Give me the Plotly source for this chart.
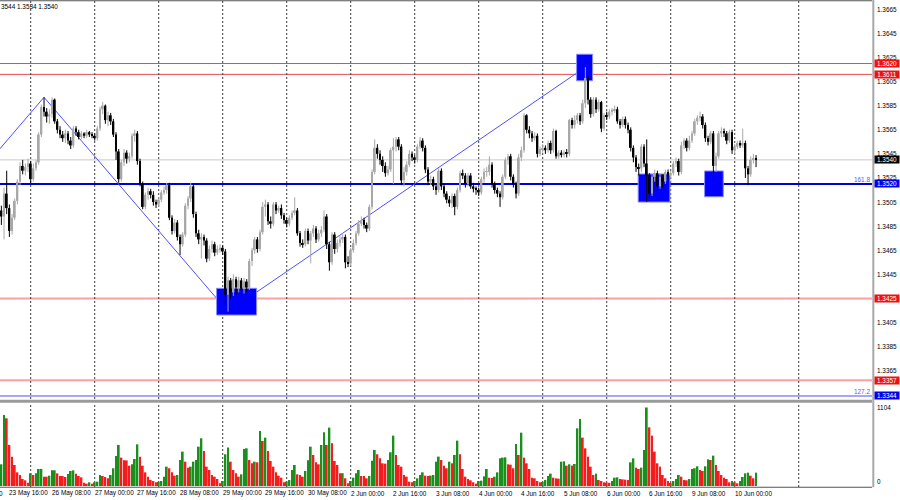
import plotly.graph_objects as go

# ---------------- data (hourly bars, index 0 = 23 May 13:00) ----------------
tick_bars = [3, 19, 35, 51, 67, 83, 99, 115, 131, 147, 163, 179, 195, 211, 227, 243, 259, 275]
tick_labels = ["23 May 16:00", "26 May 08:00", "27 May 00:00", "27 May 16:00", "28 May 08:00",
               "29 May 00:00", "29 May 16:00", "30 May 08:00", "2 Jun 00:00", "2 Jun 16:00",
               "3 Jun 08:00", "4 Jun 00:00", "4 Jun 16:00", "5 Jun 08:00", "6 Jun 00:00",
               "6 Jun 16:00", "9 Jun 08:00", "10 Jun 00:00"]
day_start_bars = [11, 35, 59, 83, 107, 131, 155, 179, 203, 227, 251, 275, 299]

first_open = 1.3498
close = [
    1.3493, 1.3512, 1.3500, 1.3481, 1.3492, 1.3506, 1.3522, 1.3535, 1.3531, 1.3534, 1.3537,
    1.3524, 1.3533, 1.3538, 1.3561, 1.3584, 1.3580, 1.3576, 1.3578, 1.3590, 1.3572,
    1.3565, 1.3561, 1.3558, 1.3562, 1.3556, 1.3552, 1.3566, 1.3563, 1.3559, 1.3562,
    1.3560, 1.3563, 1.3561, 1.3560, 1.3558, 1.3566, 1.3582, 1.3585, 1.3573, 1.3577,
    1.3572, 1.3561, 1.3547, 1.3524, 1.3538, 1.3546, 1.3541, 1.3543, 1.3560, 1.3562,
    1.3539, 1.3520, 1.3501, 1.3511, 1.3514, 1.3511, 1.3505, 1.3503, 1.3507, 1.3513,
    1.3515, 1.3519, 1.3492, 1.3481, 1.3488, 1.3476, 1.3470, 1.3478, 1.3502, 1.3508,
    1.3518, 1.3495, 1.3479, 1.3474, 1.3476, 1.3473, 1.3458, 1.3466, 1.3470, 1.3463,
    1.3466, 1.3467, 1.3464, 1.3428, 1.3440, 1.3430, 1.3441, 1.3434, 1.3440, 1.3433,
    1.3439, 1.3434, 1.3456, 1.3465, 1.3474, 1.3466, 1.3480, 1.3501, 1.3503, 1.3489,
    1.3487, 1.3503, 1.3498, 1.3500, 1.3494, 1.3490, 1.3487, 1.3492, 1.3496, 1.3498,
    1.3479, 1.3471, 1.3470, 1.3481, 1.3473, 1.3479, 1.3483, 1.3474, 1.3479, 1.3482,
    1.3493, 1.3470, 1.3455, 1.3478, 1.3466, 1.3471, 1.3474, 1.3476, 1.3455, 1.3454,
    1.3465, 1.3471, 1.3479, 1.3487, 1.3490, 1.3486, 1.3483, 1.3501, 1.3530, 1.3550,
    1.3545, 1.3540, 1.3535, 1.3529, 1.3532, 1.3548, 1.3551, 1.3557, 1.3551, 1.3523,
    1.3530, 1.3536, 1.3545, 1.3542, 1.3540, 1.3551, 1.3556, 1.3550, 1.3532, 1.3522,
    1.3524, 1.3518, 1.3515, 1.3531, 1.3518, 1.3512, 1.3507, 1.3504, 1.3510, 1.3501,
    1.3515, 1.3529, 1.3527, 1.3520, 1.3527, 1.3518, 1.3516, 1.3515, 1.3513, 1.3524,
    1.3530, 1.3530, 1.3536, 1.3520, 1.3515, 1.3512, 1.3509, 1.3526, 1.3540, 1.3543,
    1.3526, 1.3520, 1.3512, 1.3542, 1.3548, 1.3577, 1.3565, 1.3562, 1.3558, 1.3560,
    1.3545, 1.3549, 1.3550, 1.3548, 1.3554, 1.3548, 1.3564, 1.3543, 1.3546, 1.3544,
    1.3546, 1.3545, 1.3573, 1.3569, 1.3573, 1.3577, 1.3572, 1.3587, 1.3608, 1.3590,
    1.3578, 1.3590, 1.3582, 1.3588, 1.3566, 1.3577, 1.3576, 1.3580, 1.3581, 1.3582,
    1.3572, 1.3569, 1.3574, 1.3569, 1.3565, 1.3550, 1.3542, 1.3534, 1.3533, 1.3551,
    1.3537, 1.3527, 1.3512, 1.3526, 1.3529, 1.3518, 1.3526, 1.3522, 1.3530, 1.3527,
    1.3529, 1.3537, 1.3539, 1.3530, 1.3552, 1.3556, 1.3550, 1.3556, 1.3562, 1.3572,
    1.3575, 1.3576, 1.3569, 1.3558, 1.3555, 1.3562, 1.3535, 1.3543, 1.3562, 1.3564,
    1.3562, 1.3556, 1.3563, 1.3548, 1.3551, 1.3554, 1.3552, 1.3554, 1.3533, 1.3528,
    1.3540, 1.3541, 1.3540,
]
high = [
    1.3502, 1.3517, 1.3531, 1.3503, 1.3495, 1.3508, 1.3524, 1.3538, 1.3540, 1.3537, 1.3541,
    1.3539, 1.3537, 1.3540, 1.3563, 1.3586, 1.3592, 1.3583, 1.3582, 1.3592, 1.3591,
    1.3574, 1.3568, 1.3564, 1.3565, 1.3564, 1.3559, 1.3568, 1.3568, 1.3565, 1.3564,
    1.3563, 1.3565, 1.3564, 1.3563, 1.3562, 1.3568, 1.3584, 1.3588, 1.3586, 1.3580,
    1.3579, 1.3574, 1.3563, 1.3549, 1.3540, 1.3549, 1.3548, 1.3546, 1.3562, 1.3565,
    1.3564, 1.3541, 1.3522, 1.3513, 1.3517, 1.3516, 1.3514, 1.3507, 1.3509, 1.3515,
    1.3518, 1.3521, 1.3521, 1.3494, 1.3491, 1.3490, 1.3478, 1.3480, 1.3504, 1.3510,
    1.3521, 1.3520, 1.3497, 1.3482, 1.3479, 1.3478, 1.3475, 1.3469, 1.3473, 1.3472,
    1.3469, 1.3470, 1.3469, 1.3466, 1.3443, 1.3442, 1.3445, 1.3443, 1.3443, 1.3442,
    1.3442, 1.3441, 1.3458, 1.3467, 1.3476, 1.3476, 1.3482, 1.3505, 1.3507, 1.3505,
    1.3493, 1.3505, 1.3505, 1.3502, 1.3503, 1.3496, 1.3492, 1.3494, 1.3498, 1.3509,
    1.3500, 1.3481, 1.3474, 1.3483, 1.3483, 1.3481, 1.3486, 1.3485, 1.3482, 1.3485,
    1.3498, 1.3495, 1.3472, 1.3480, 1.3480, 1.3474, 1.3477, 1.3479, 1.3478, 1.3460,
    1.3467, 1.3474, 1.3481, 1.3490, 1.3493, 1.3492, 1.3488, 1.3503, 1.3532, 1.3557,
    1.3553, 1.3548, 1.3543, 1.3538, 1.3535, 1.3550, 1.3558, 1.3559, 1.3559, 1.3553,
    1.3534, 1.3539, 1.3548, 1.3547, 1.3544, 1.3553, 1.3559, 1.3558, 1.3552, 1.3534,
    1.3527, 1.3526, 1.3520, 1.3533, 1.3533, 1.3520, 1.3514, 1.3510, 1.3512, 1.3512,
    1.3517, 1.3531, 1.3532, 1.3529, 1.3529, 1.3529, 1.3521, 1.3518, 1.3517, 1.3526,
    1.3533, 1.3534, 1.3543, 1.3538, 1.3522, 1.3517, 1.3514, 1.3528, 1.3542, 1.3545,
    1.3545, 1.3528, 1.3522, 1.3545, 1.3551, 1.3579, 1.3578, 1.3568, 1.3564, 1.3563,
    1.3562, 1.3551, 1.3553, 1.3552, 1.3556, 1.3556, 1.3566, 1.3565, 1.3548, 1.3548,
    1.3548, 1.3549, 1.3574, 1.3575, 1.3577, 1.3579, 1.3579, 1.3590, 1.3617, 1.3610,
    1.3592, 1.3592, 1.3592, 1.3590, 1.3589, 1.3579, 1.3580, 1.3582, 1.3583, 1.3585,
    1.3584, 1.3574, 1.3576, 1.3576, 1.3571, 1.3567, 1.3552, 1.3544, 1.3537, 1.3553,
    1.3553, 1.3557, 1.3529, 1.3528, 1.3532, 1.3531, 1.3529, 1.3528, 1.3532, 1.3532,
    1.3531, 1.3539, 1.3542, 1.3541, 1.3555, 1.3558, 1.3558, 1.3560, 1.3564, 1.3574,
    1.3577, 1.3580, 1.3578, 1.3571, 1.3560, 1.3564, 1.3564, 1.3546, 1.3564, 1.3567,
    1.3566, 1.3564, 1.3565, 1.3565, 1.3553, 1.3556, 1.3556, 1.3566, 1.3556, 1.3535,
    1.3543, 1.3545, 1.3544,
]
low = [
    1.3486, 1.3474, 1.3495, 1.3476, 1.3478, 1.3490, 1.3503, 1.3519, 1.3528, 1.3527, 1.3530,
    1.3521, 1.3522, 1.3531, 1.3536, 1.3559, 1.3576, 1.3571, 1.3570, 1.3575, 1.3570,
    1.3562, 1.3558, 1.3555, 1.3554, 1.3553, 1.3549, 1.3550, 1.3560, 1.3557, 1.3557,
    1.3558, 1.3558, 1.3559, 1.3558, 1.3556, 1.3556, 1.3564, 1.3578, 1.3570, 1.3568,
    1.3569, 1.3559, 1.3540, 1.3521, 1.3522, 1.3535, 1.3537, 1.3538, 1.3541, 1.3555,
    1.3536, 1.3518, 1.3499, 1.3499, 1.3507, 1.3508, 1.3502, 1.3500, 1.3501, 1.3505,
    1.3511, 1.3512, 1.3490, 1.3478, 1.3479, 1.3473, 1.3461, 1.3468, 1.3476, 1.3499,
    1.3505, 1.3492, 1.3476, 1.3470, 1.3458, 1.3469, 1.3455, 1.3456, 1.3463, 1.3460,
    1.3461, 1.3463, 1.3461, 1.3420, 1.3414, 1.3425, 1.3427, 1.3428, 1.3430, 1.3427,
    1.3429, 1.3430, 1.3432, 1.3452, 1.3462, 1.3463, 1.3464, 1.3478, 1.3493, 1.3486,
    1.3483, 1.3485, 1.3495, 1.3496, 1.3491, 1.3487, 1.3484, 1.3485, 1.3490, 1.3494,
    1.3477, 1.3468, 1.3467, 1.3468, 1.3470, 1.3454, 1.3476, 1.3471, 1.3472, 1.3476,
    1.3480, 1.3466, 1.3448, 1.3453, 1.3462, 1.3463, 1.3468, 1.3471, 1.3450, 1.3451,
    1.3452, 1.3463, 1.3469, 1.3477, 1.3485, 1.3483, 1.3480, 1.3481, 1.3499, 1.3528,
    1.3541, 1.3536, 1.3530, 1.3526, 1.3527, 1.3530, 1.3520, 1.3547, 1.3548, 1.3519,
    1.3518, 1.3527, 1.3534, 1.3539, 1.3537, 1.3538, 1.3549, 1.3547, 1.3529, 1.3519,
    1.3519, 1.3515, 1.3511, 1.3513, 1.3515, 1.3509, 1.3504, 1.3501, 1.3500, 1.3494,
    1.3499, 1.3513, 1.3524, 1.3517, 1.3518, 1.3516, 1.3513, 1.3511, 1.3510, 1.3511,
    1.3521, 1.3526, 1.3527, 1.3517, 1.3512, 1.3509, 1.3501, 1.3507, 1.3524, 1.3536,
    1.3523, 1.3517, 1.3508, 1.3510, 1.3539, 1.3546, 1.3562, 1.3558, 1.3555, 1.3556,
    1.3542, 1.3543, 1.3546, 1.3545, 1.3546, 1.3545, 1.3546, 1.3541, 1.3541, 1.3542,
    1.3542, 1.3542, 1.3543, 1.3566, 1.3566, 1.3570, 1.3569, 1.3570, 1.3583, 1.3586,
    1.3575, 1.3576, 1.3579, 1.3580, 1.3563, 1.3564, 1.3573, 1.3574, 1.3577, 1.3579,
    1.3570, 1.3566, 1.3567, 1.3566, 1.3562, 1.3547, 1.3538, 1.3530, 1.3527, 1.3530,
    1.3534, 1.3505, 1.3508, 1.3510, 1.3522, 1.3514, 1.3516, 1.3517, 1.3520, 1.3524,
    1.3525, 1.3527, 1.3534, 1.3527, 1.3528, 1.3549, 1.3547, 1.3548, 1.3554, 1.3560,
    1.3569, 1.3572, 1.3566, 1.3555, 1.3552, 1.3553, 1.3523, 1.3530, 1.3541, 1.3559,
    1.3559, 1.3553, 1.3554, 1.3545, 1.3545, 1.3549, 1.3550, 1.3550, 1.3525, 1.3519,
    1.3526, 1.3537, 1.3534,
]
volume = [
    305, 999, 952, 577, 413, 295, 192, 155, 98, 80, 47,
    178, 155, 178, 239, 240, 131, 131, 145, 220, 221, 178, 141, 140, 127, 169, 211, 220, 174, 141, 122, 47, 33, 52, 33,
    52, 61, 155, 141, 127, 108, 155, 249, 422, 577, 399, 361, 360, 286, 305, 380, 586, 413, 286, 192, 131, 84, 70, 52,
    58, 70, 131, 272, 249, 192, 145, 155, 366, 483, 342, 258, 272, 342, 366, 553, 671, 492, 272, 225, 155, 131, 98, 38,
    70, 446, 540, 342, 225, 178, 131, 164, 521, 530, 366, 319, 342, 333, 774, 633, 680, 492, 352, 272, 192, 145, 117, 52,
    61, 84, 225, 295, 164, 155, 131, 211, 361, 553, 436, 333, 305, 577, 755, 577, 821, 600, 352, 295, 178, 180, 108, 38,
    70, 117, 178, 225, 141, 140, 108, 141, 356, 507, 446, 389, 319, 314, 366, 474, 708, 436, 295, 272, 155, 131, 61, 52,
    70, 108, 155, 192, 145, 141, 146, 155, 342, 413, 366, 286, 249, 342, 319, 436, 638, 446, 239, 131, 98, 80, 52, 33,
    70, 75, 136, 239, 117, 113, 131, 192, 389, 399, 403, 305, 300, 249, 591, 436, 750, 399, 319, 239, 117, 108, 70, 52,
    56, 84, 141, 174, 117, 108, 103, 342, 347, 286, 305, 286, 310, 811, 943, 680, 530, 413, 272, 155, 174, 84, 70, 52,
    47, 45, 70, 117, 122, 98, 94, 89, 84, 333, 389, 258, 239, 258, 507, 1104, 825, 708, 483, 319, 272, 155, 108, 70,
    42, 70, 98, 155, 131, 84, 80, 98, 239, 249, 277, 225, 211, 277, 375, 366, 427, 295, 211, 155, 117, 98, 52, 70,
    52, 38, 70, 127, 178, 188, 145, 108, 188,
]

price_ticks = [1.3665, 1.3645, 1.3625, 1.3605, 1.3585, 1.3565, 1.3545, 1.3525, 1.3505,
               1.3485, 1.3465, 1.3445, 1.3425, 1.3405, 1.3385, 1.3365]
level_prices = [1.3620, 1.3611, 1.3540, 1.3520, 1.3425, 1.3357, 1.3344]
fibo_labels = [("161.8", 1.3520), ("127.2", 1.3344)]
zigzag_x = [-8, 16, 85, 219]
zigzag_y = [1.3530, 1.3592, 1.3414, 1.3617]
box_x0 = [215.7, 80.7, 238.8, 263.7]
box_x1 = [221.7, 95.7, 250.7, 270.7]
box_y0 = [1.36057, 1.34112, 1.35050, 1.35094]
box_y1 = [1.36277, 1.34334, 1.35283, 1.35308]
vol_max_label = 1104
header_text = "3544 1.3534 1.3540"

n = len(close)
assert len(high) == n and len(low) == n and len(volume) == n, (len(close), len(high), len(low), len(volume))

# ---------------- styles ----------------
FONT = "Liberation Sans"
FS = 6.4
BULL = "#a8a8a8"
BEAR = "#000000"
VOL_UP = "#1b8f1b"
VOL_DN = "#f41c1c"

opens = [first_open] + close[:-1]
xs = list(range(n))

fig = go.Figure()

# candle wicks
for bull in (True, False):
    wx, wy = [], []
    for i in xs:
        if (close[i] >= opens[i]) == bull:
            wx += [i, i, None]
            wy += [min(low[i], opens[i], close[i]), max(high[i], opens[i], close[i]), None]
    fig.add_trace(go.Scatter(x=wx, y=wy, mode="lines", line=dict(color=BULL if bull else BEAR, width=1),
                             hoverinfo="skip", xaxis="x", yaxis="y"))

# candle bodies
for bull in (True, False):
    bx, bb, bh = [], [], []
    for i in xs:
        if (close[i] >= opens[i]) == bull:
            bx.append(i)
            bb.append(min(opens[i], close[i]))
            bh.append(max(abs(close[i] - opens[i]), 0.00005))
    fig.add_trace(go.Bar(x=bx, y=bh, base=bb, width=0.72, marker=dict(color=BULL if bull else BEAR, line=dict(width=0)),
                         hoverinfo="skip", xaxis="x", yaxis="y"))

# volumes
vcol = [VOL_UP if (i == 0 or volume[i] > volume[i - 1]) else VOL_DN for i in xs]
fig.add_trace(go.Bar(x=xs, y=volume, width=0.72, marker=dict(color=vcol, line=dict(width=0)),
                     hoverinfo="skip", xaxis="x", yaxis="y2"))

# ---------------- geometry ----------------
Y_MAIN = [0.202, 0.998]
Y_VOL = [0.026, 0.194]
shapes = []
# horizontal levels
level_style = {
    1.3620: ("#e84c4c", 1), 1.3611: ("#e84c4c", 1), 1.3540: ("#c8c8c8", 1), 1.3520: ("#0000d0", 2),
    1.3425: ("#ffa0a0", 2), 1.3357: ("#ffa0a0", 2), 1.3344: ("#4a4aff", 1),
}
for p in level_prices:
    c, w = level_style[p]
    shapes.append(dict(type="line", xref="paper", yref="y", x0=0, x1=1, y0=p, y1=p, layer="below",
                       line=dict(color=c, width=w)))
# zigzag (drawn under the rectangles, as in the terminal)
zz_path = "M " + " L ".join(f"{x},{y}" for x, y in zip(zigzag_x, zigzag_y))
shapes.append(dict(type="path", xref="x", yref="y", path=zz_path, layer="below",
                   line=dict(color="#4f4fff", width=1)))
# blue rectangles
for x0, x1, y0, y1 in zip(box_x0, box_x1, box_y0, box_y1):
    shapes.append(dict(type="rect", xref="x", yref="y", x0=x0, x1=x1, y0=y0, y1=y1, layer="below",
                       fillcolor="#0000ff", line=dict(color="#8a8aff", width=1)))
# vertical dotted day grid in both panels
for b in day_start_bars:
    for d in (Y_MAIN, Y_VOL):
        shapes.append(dict(type="line", xref="x", yref="paper", x0=b, x1=b, y0=d[0], y1=d[1], layer="below",
                           line=dict(color="#3c3c3c", width=1, dash="2px,2px")))
# panel frame
shapes += [
    dict(type="rect", xref="paper", yref="paper", x0=0, x1=1, y0=0.1945, y1=0.2005, layer="above",
         fillcolor="#9a9a9a", line=dict(width=0)),
    dict(type="line", xref="paper", yref="paper", x0=0, x1=1.0, y0=0.9985, y1=0.9985, line=dict(color="#555555", width=1)),
    dict(type="line", xref="paper", yref="paper", x0=0, x1=1.0, y0=0.0255, y1=0.0255, line=dict(color="#555555", width=1)),
    dict(type="line", xref="paper", yref="paper", x0=1.0015, x1=1.0015, y0=0.0255, y1=1.0, line=dict(color="#a8a8a8", width=2)),
]

ann = []
for p in price_ticks:
    ann.append(dict(xref="paper", yref="y", x=876 / 872, y=p, xanchor="left", yanchor="middle", showarrow=False,
                    text=f"{p:.4f}", font=dict(family=FONT, size=FS, color="#000000"), borderpad=0))
label_bg = {1.3620: "#ee1111", 1.3611: "#ee1111", 1.3540: "#000000", 1.3520: "#0000ee",
            1.3425: "#ee1111", 1.3357: "#ee1111", 1.3344: "#0000ee"}
for p in level_prices:
    ann.append(dict(xref="paper", yref="y", x=874 / 872, y=p, xanchor="left", yanchor="middle", showarrow=False,
                    text=f"{p:.4f}", font=dict(family=FONT, size=FS, color="#ffffff"), bgcolor=label_bg[p],
                    width=24, height=7, borderpad=0, align="center"))
for t, p in fibo_labels:
    ann.append(dict(xref="paper", yref="y", x=871 / 872, y=p, xanchor="right", yanchor="bottom", showarrow=False,
                    text=t, font=dict(family=FONT, size=FS, color="#5a5aff"), borderpad=0))
ann.append(dict(xref="paper", yref="y2", x=876 / 872, y=vol_max_label, xanchor="left", yanchor="middle", showarrow=False,
                text=str(vol_max_label), font=dict(family=FONT, size=FS, color="#000000"), borderpad=0))
ann.append(dict(xref="paper", yref="y2", x=876 / 872, y=0, xanchor="left", yanchor="bottom", showarrow=False,
                text="0", font=dict(family=FONT, size=FS, color="#000000"), borderpad=0))
for b, t in zip(tick_bars, tick_labels):
    ann.append(dict(xref="x", yref="paper", x=b, y=0.014, xanchor="left", yanchor="middle", showarrow=False,
                    text=t, font=dict(family=FONT, size=FS, color="#000000"), borderpad=0, xshift=-1))
ann.append(dict(xref="paper", yref="paper", x=0, y=0.014, xanchor="left", yanchor="middle", showarrow=False,
                text="0", font=dict(family=FONT, size=FS, color="#000000"), borderpad=0, xshift=-2))
ann.append(dict(xref="paper", yref="paper", x=0, y=1 - 6.5 / 500, xanchor="left", yanchor="middle", showarrow=False,
                text=header_text, font=dict(family=FONT, size=FS, color="#000000"), borderpad=0))

fig.update_layout(
    width=900, height=500, margin=dict(l=0, r=28, t=0, b=0),
    paper_bgcolor="#ffffff", plot_bgcolor="#ffffff",
    showlegend=False, hovermode=False, barmode="overlay",
    xaxis=dict(range=[-0.514, 326.48], showgrid=False, zeroline=False, showticklabels=False, ticks="",
               showline=False, anchor="y2", fixedrange=True),
    yaxis=dict(domain=Y_MAIN, range=[1.33415, 1.36719], showgrid=False, zeroline=False, showticklabels=False,
               ticks="", showline=False, fixedrange=True),
    yaxis2=dict(domain=Y_VOL, range=[-14, 1167], showgrid=False, zeroline=False, showticklabels=False,
                ticks="", showline=False, fixedrange=True),
    shapes=shapes, annotations=ann,
)

fig.write_html("out.html", config={"displayModeBar": False},
               post_script="document.body.style.margin='0px';document.body.style.padding='0px';document.body.style.overflow='hidden';")
